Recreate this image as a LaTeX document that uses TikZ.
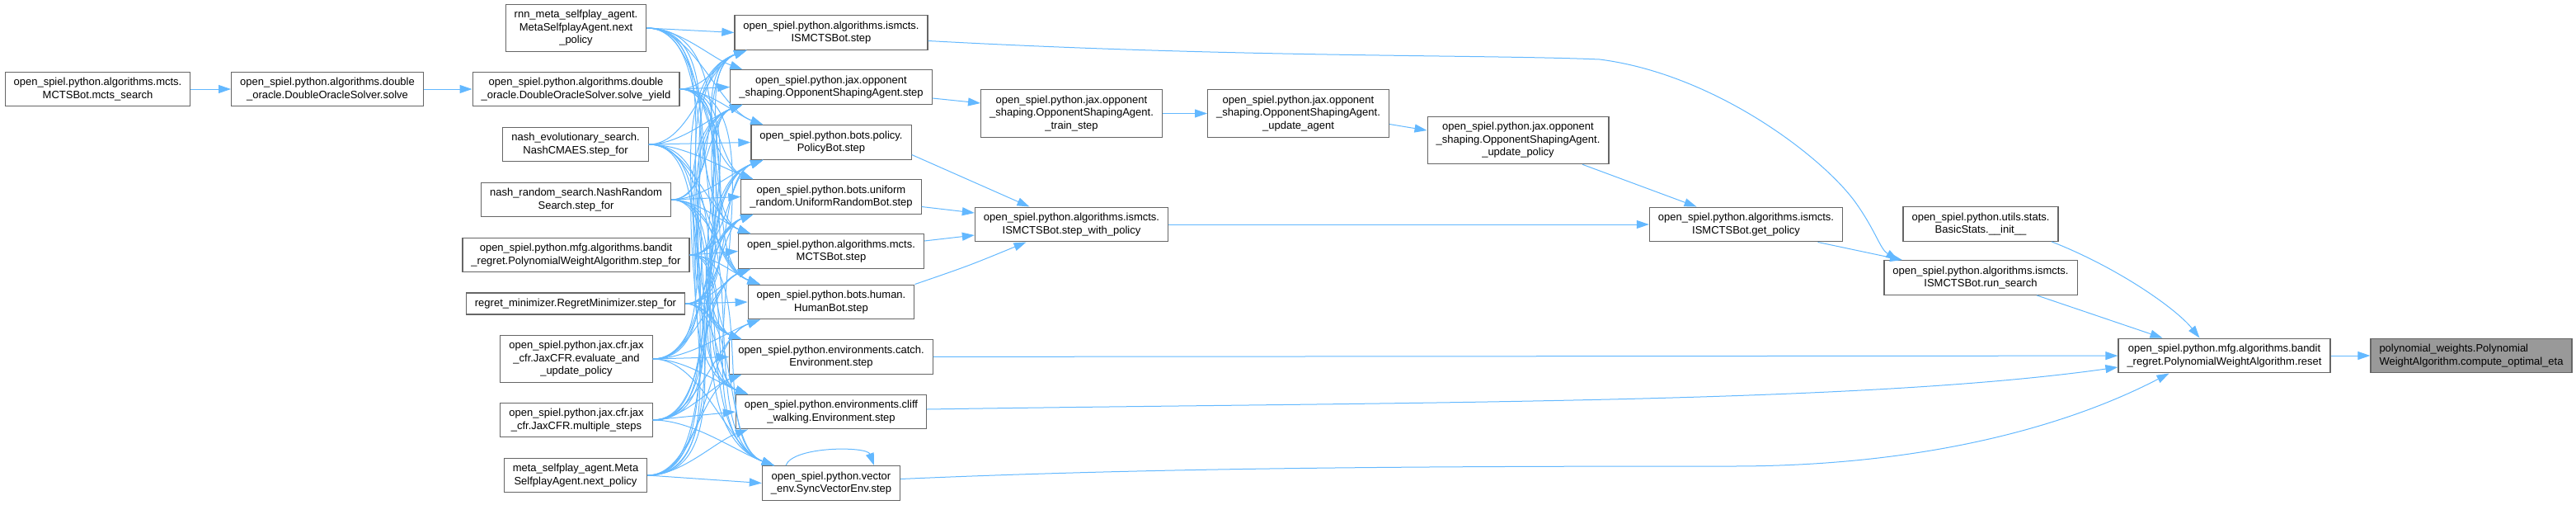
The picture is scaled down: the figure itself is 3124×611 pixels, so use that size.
\documentclass[tikz,border=0pt]{standalone}
\usepackage{fontspec}
\setmainfont{Liberation Sans}
\usetikzlibrary{arrows.meta}
\definecolor{edgeblue}{HTML}{63B8FF}
\definecolor{boxline}{HTML}{666666}
\definecolor{focusfill}{HTML}{999999}

\begin{document}
\begin{tikzpicture}[
    x=1pt, y=-1pt,
    font=\fontsize{13}{15.6}\selectfont,
    >={Triangle[length=15pt,width=10pt]},
    fn/.style={draw=boxline, line width=1.2pt, fill=white, align=center, inner xsep=10.5pt, inner ysep=7pt},
    focus/.style={fn, fill=focusfill, align=left},
    call/.style={->, draw=edgeblue, line width=1pt},
]
    \useasboundingbox (0,0) rectangle (3124,611);
    % left chain
    \node[fn] (mctssearch) at (118.5,108) {open\_spiel.python.algorithms.mcts.\\MCTSBot.mcts\_search};
    \node[fn] (oraclesolve) at (397,108) {open\_spiel.python.algorithms.double\\\_oracle.DoubleOracleSolver.solve};
    % callers of step
    \node[fn] (rnnpolicy) at (698.5,34) {rnn\_meta\_selfplay\_agent.\\MetaSelfplayAgent.next\\\_policy};
    \node[fn] (solveyield) at (698.5,108) {open\_spiel.python.algorithms.double\\\_oracle.DoubleOracleSolver.solve\_yield};
    \node[fn] (nashcmaes) at (698,175) {nash\_evolutionary\_search.\\NashCMAES.step\_for};
    \node[fn] (nashrandom) at (698.5,242) {nash\_random\_search.NashRandom\\Search.step\_for};
    \node[fn] (pwastepfor) at (698.5,309) {open\_spiel.python.mfg.algorithms.bandit\\\_regret.PolynomialWeightAlgorithm.step\_for};
    \node[fn] (regretmin) at (698,368) {regret\_minimizer.RegretMinimizer.step\_for};
    \node[fn] (jaxeval) at (699,435) {open\_spiel.python.jax.cfr.jax\\\_cfr.JaxCFR.evaluate\_and\\\_update\_policy};
    \node[fn] (jaxmulti) at (699,509) {open\_spiel.python.jax.cfr.jax\\\_cfr.JaxCFR.multiple\_steps};
    \node[fn] (metapolicy) at (698,576) {meta\_selfplay\_agent.Meta\\SelfplayAgent.next\_policy};
    % step methods
    \node[fn] (ismctsstep) at (1008,39.5) {open\_spiel.python.algorithms.ismcts.\\ISMCTSBot.step};
    \node[fn] (osastep) at (1008,105.5) {open\_spiel.python.jax.opponent\\\_shaping.OpponentShapingAgent.step};
    \node[fn] (policybot) at (1008,172.5) {open\_spiel.python.bots.policy.\\PolicyBot.step};
    \node[fn] (uniformbot) at (1008,238.5) {open\_spiel.python.bots.uniform\\\_random.UniformRandomBot.step};
    \node[fn] (mctsbot) at (1008,304.5) {open\_spiel.python.algorithms.mcts.\\MCTSBot.step};
    \node[fn] (humanbot) at (1008,366) {open\_spiel.python.bots.human.\\HumanBot.step};
    \node[fn] (catchenv) at (1008,432.5) {open\_spiel.python.environments.catch.\\Environment.step};
    \node[fn] (cliffenv) at (1008,499) {open\_spiel.python.environments.cliff\\\_walking.Environment.step};
    \node[fn] (syncenv) at (1008,585.5) {open\_spiel.python.vector\\\_env.SyncVectorEnv.step};
    % right part
    \node[fn] (trainstep) at (1299.5,137.5) {open\_spiel.python.jax.opponent\\\_shaping.OpponentShapingAgent.\\\_train\_step};
    \node[fn] (stepwithpolicy) at (1299.5,272) {open\_spiel.python.algorithms.ismcts.\\ISMCTSBot.step\_with\_policy};
    \node[fn] (updateagent) at (1574.5,137.5) {open\_spiel.python.jax.opponent\\\_shaping.OpponentShapingAgent.\\\_update\_agent};
    \node[fn] (updatepolicy) at (1841,170) {open\_spiel.python.jax.opponent\\\_shaping.OpponentShapingAgent.\\\_update\_policy};
    \node[fn] (getpolicy) at (2117.5,272) {open\_spiel.python.algorithms.ismcts.\\ISMCTSBot.get\_policy};
    \node[fn] (basicstats) at (2402,271.5) {open\_spiel.python.utils.stats.\\BasicStats.\_\_init\_\_};
    \node[fn] (runsearch) at (2402,336.5) {open\_spiel.python.algorithms.ismcts.\\ISMCTSBot.run\_search};
    \node[fn] (pwareset) at (2697.5,431) {open\_spiel.python.mfg.algorithms.bandit\\\_regret.PolynomialWeightAlgorithm.reset};
    \node[focus] (computeeta) at (2997,431) {polynomial\_weights.Polynomial\\WeightAlgorithm.compute\_optimal\_eta};

    % every caller reaches every step
    \foreach \c [count=\i] in {rnnpolicy,solveyield,nashcmaes,nashrandom,pwastepfor,regretmin,jaxeval,jaxmulti,metapolicy} {
        \foreach \d [count=\j] in {ismctsstep,osastep,policybot,uniformbot,mctsbot,humanbot,catchenv,cliffenv,syncenv} {
            \ifnum\i=\j
                \draw[call] (\c.east) -- (\d.west);
            \else\ifnum\i<\j
                \draw[call] (\c.east) to[out=0,in=160,looseness=0.8] ([xshift=15pt]\d.north west);
            \else
                \draw[call] (\c.east) to[out=0,in=200,looseness=0.8] ([xshift=15pt]\d.south west);
            \fi\fi
        }
    }

    % other calls
    \draw[call] (mctssearch) -- (oraclesolve);
    \draw[call] (oraclesolve) -- (solveyield);
    \draw[call] ([xshift=-55pt]syncenv.north) to[out=70,in=110,looseness=0.6] ([xshift=52pt]syncenv.north);
    \draw[call] ([yshift=-13.5pt]osastep.east) -- ([yshift=12.5pt]trainstep.west);
    \draw[call] (trainstep) -- (updateagent);
    \draw[call] ([yshift=-13pt]updateagent.east) -- ([yshift=12pt]updatepolicy.west);
    \draw[call] ([xshift=78pt]updatepolicy.south) -- ([xshift=-60pt]getpolicy.north);
    \draw[call] ([yshift=-15pt]policybot.east) -- ([xshift=-51pt]stepwithpolicy.north);
    \draw[call] ([yshift=-12pt]uniformbot.east) -- ([yshift=14pt]stepwithpolicy.west);
    \draw[call] ([yshift=12.5pt]mctsbot.east) -- ([yshift=-13pt]stepwithpolicy.west);
    \draw[call] (humanbot.north east) .. controls (1175,322) .. ([xshift=-55pt]stepwithpolicy.south);
    \draw[call] (stepwithpolicy) -- (getpolicy);
    \draw[call] ([xshift=87pt]getpolicy.south) -- ([xshift=-95pt]runsearch.north);
    \draw[call] ([yshift=-10pt]ismctsstep.east) .. controls (1500,70) and (1800,66) .. (1940,72)
        .. controls (2080,90) and (2210,190) .. (2250,245)
        .. controls (2275,280) and (2280,302) .. ([xshift=-100pt]runsearch.north);
    \draw[call] ([xshift=68pt]runsearch.south) -- ([xshift=-75pt]pwareset.north);
    \draw[call] ([xshift=86pt]basicstats.south) .. controls (2570,325) and (2640,375) .. ([xshift=-30pt]pwareset.north);
    \draw[call] (catchenv) -- (pwareset);
    \draw[call] ([yshift=3pt]cliffenv.east) .. controls (1700,487) and (2250,490) .. ([yshift=-14pt]pwareset.west);
    \draw[call] ([yshift=5pt]syncenv.east) .. controls (1400,567) and (1700,565) .. (2100,565)
        .. controls (2350,565) and (2520,510) .. ([xshift=-67pt]pwareset.south);
    \draw[call] (pwareset) -- (computeeta);
\end{tikzpicture}
\end{document}
